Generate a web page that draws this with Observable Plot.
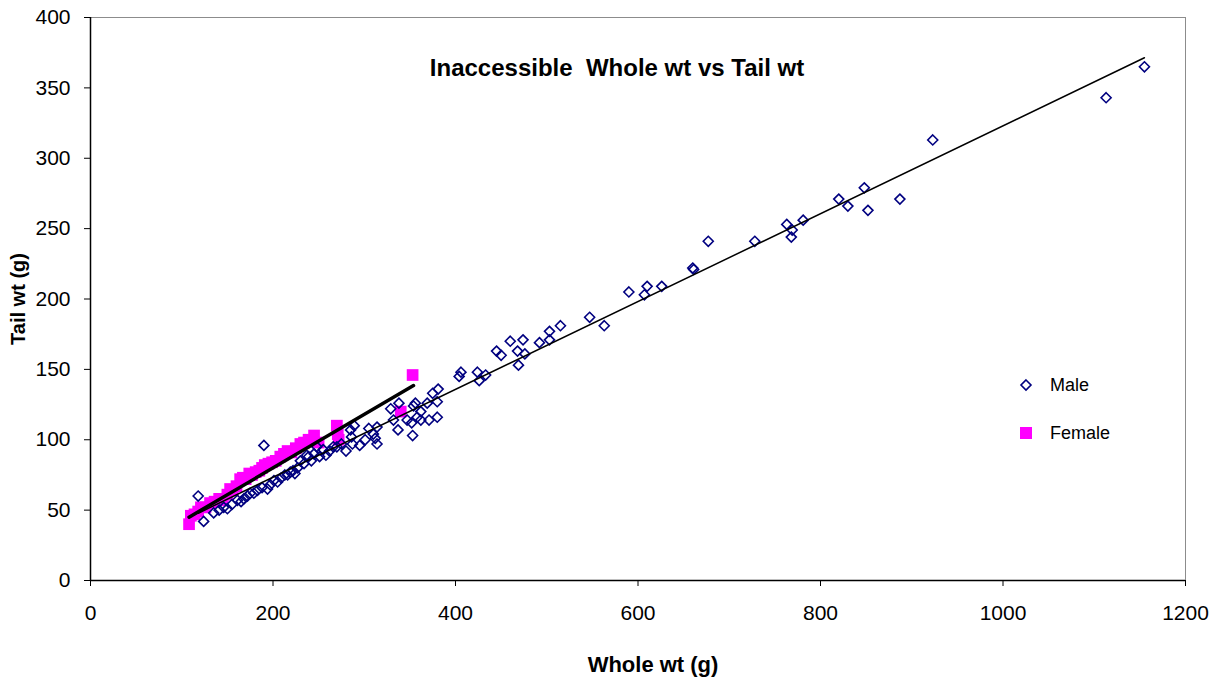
<!DOCTYPE html>
<html>
<head>
<meta charset="utf-8">
<script src="https://cdn.jsdelivr.net/npm/d3@7"></script>
<script src="https://cdn.jsdelivr.net/npm/@observablehq/plot@0.6"></script>
<style>
  body { margin: 0; background: #fff; }
  #wrap { position: relative; width: 1219px; height: 684px; font-family: Arial, "Liberation Sans", sans-serif; }
  .leg { position: absolute; left: 1018px; display: flex; align-items: center; font-size: 18px; color: #000; }
  .leg svg { margin-right: 16px; }
</style>
</head>
<body>
<div id="wrap"></div>
<script>
const titleText = "Inaccessible  Whole wt vs Tail wt";
const xLabel = "Whole wt (g)";
const yLabel = "Tail wt (g)";
const xTicks = [0, 200, 400, 600, 800, 1000, 1200];
const yTicks = [0, 50, 100, 150, 200, 250, 300, 350, 400];
const legendLabels = ["Male", "Female"];

const maleWhole = [118,124,135,141,146,150,155,161,165,168,172,175,179,183,188,190,194,197,201,205,209,213,216,219,222,224,227,230,234,237,239,242,245,248,251,255,258,262,266,270,275,280,285,286,287,289,295,301,305,310,312,314,314,329,332,337,338,347,352,353,354,356,358,362,362,369,371,375,380,380,381,404,406,424,426,433,445,450,460,468,469,474,476,492,503,503,515,547,563,590,607,610,626,660,661,677,728,763,768,769,781,820,830,848,852,887,923,1113,1155];
const maleTail  = [60,42,48,50,52,51,54,57,56,58,60,62,62,64,66,96,65,68,71,70,73,75,75,77,78,76,80,85,83,89,88,85,90,95,88,93,89,92,95,95,97,92,107,102,97,110,96,100,108,104,101,109,97,122,114,107,126,114,112,103,124,126,116,120,114,126,114,133,127,116,136,145,148,148,142,146,163,160,170,163,153,171,161,169,177,171,181,187,181,205,203,209,209,222,221,241,241,253,244,249,256,271,266,279,263,271,313,343,365];

const femaleWhole = [108,110,114,118,121,126,131,136,141,145,150,153,156,160,164,167,170,174,177,181,185,188,191,195,199,203,208,212,216,220,225,230,234,239,245,250,270,271,272,340,353];
const femaleTail  = [40,46,47,49,52,52,55,56,58,57,61,65,64,67,72,73,72,76,75,77,78,80,82,83,84,85,88,90,92,91,94,97,98,100,103,98,110,104,100,120,146];

// trend lines (end points)
const maleTrendWhole = [118, 1155];
const maleTrendTail = [47.8, 371.4];
const femaleTrendWhole = [108, 354];
const femaleTrendTail = [45, 138.5];

const male = maleWhole.map((x, i) => ({x, y: maleTail[i]}));
const female = femaleWhole.map((x, i) => ({x, y: femaleTail[i]}));
const maleTrend = maleTrendWhole.map((x, i) => ({x, y: maleTrendTail[i]}));
const femaleTrend = femaleTrendWhole.map((x, i) => ({x, y: femaleTrendTail[i]}));

const chart = Plot.plot({
  width: 1219,
  height: 684,
  marginLeft: 90,
  marginRight: 34,
  marginTop: 17,
  marginBottom: 104,
  style: {fontFamily: "Arial, 'Liberation Sans', sans-serif", fontSize: "21px", color: "#000", background: "#fff", overflow: "visible"},
  x: {domain: [0, 1200]},
  y: {domain: [0, 400]},
  marks: [
    Plot.ruleY([400], {stroke: "#8c8c8c", strokeWidth: 1}),
    Plot.ruleX([1200], {stroke: "#8c8c8c", strokeWidth: 1}),
    Plot.axisY(yTicks, {tickSize: 6, tickPadding: 14, label: null, tickFormat: d => String(d), stroke: "#000", strokeOpacity: 1}),
    Plot.axisX(xTicks, {tickSize: 6, tickPadding: 19, label: null, tickFormat: d => String(d), stroke: "#000", strokeOpacity: 1}),
    Plot.ruleX([0], {stroke: "#000", strokeWidth: 1.5}),
    Plot.ruleY([0], {stroke: "#000", strokeWidth: 1.5}),
    Plot.dot(female, {x: "x", y: "y", symbol: "square", r: 6.6, fill: "#FF00FF", stroke: "none"}),
    Plot.dot(male, {x: "x", y: "y", symbol: "diamond2", r: 4.5, fill: "none", stroke: "#000080", strokeWidth: 1.6}),
    Plot.line(maleTrend, {x: "x", y: "y", stroke: "#000", strokeWidth: 1.5}),
    Plot.line(femaleTrend, {x: "x", y: "y", stroke: "#000", strokeWidth: 3.5}),
    Plot.text([titleText], {text: d => d, frameAnchor: "top", dx: -21, dy: 41, lineAnchor: "top", fontSize: 24, fontWeight: "bold"}),
    Plot.text([yLabel], {text: d => d, frameAnchor: "left", dx: -72, rotate: -90, textAnchor: "middle", lineAnchor: "middle", fontSize: 20, fontWeight: "bold"}),
    Plot.text([xLabel], {text: d => d, frameAnchor: "bottom", dx: 15, dy: 84, textAnchor: "middle", lineAnchor: "middle", fontSize: 22, fontWeight: "bold"})
  ]
});

const wrap = document.getElementById("wrap");
wrap.appendChild(chart);

const legendTops = [374, 422];
legendLabels.forEach((label, i) => {
  const row = document.createElement("div");
  row.className = "leg";
  row.style.top = legendTops[i] + "px";
  const marker = i === 0
    ? '<svg width="16" height="22" viewBox="-8 -11 16 22"><path d="M0,-5L5,0L0,5L-5,0Z" fill="none" stroke="#000080" stroke-width="1.6"/></svg>'
    : '<svg width="16" height="22" viewBox="-8 -11 16 22"><rect x="-6" y="-6" width="12" height="12" fill="#FF00FF"/></svg>';
  row.innerHTML = marker + "<span>" + label + "</span>";
  wrap.appendChild(row);
});
</script>
</body>
</html>
